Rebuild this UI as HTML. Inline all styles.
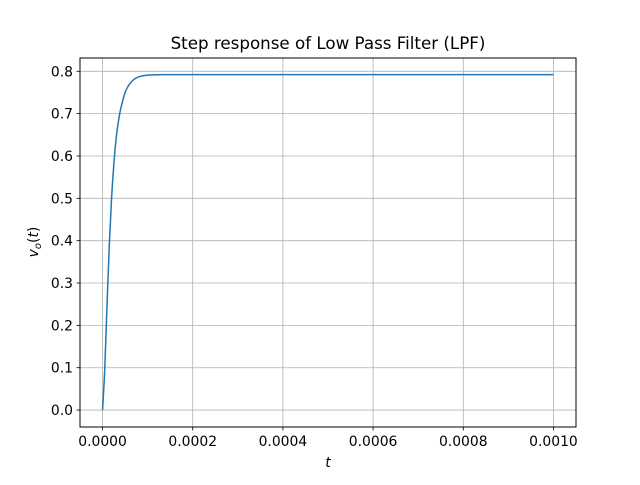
<!DOCTYPE html>
<html><head><meta charset="utf-8"><style>
body{margin:0;background:#fff}
svg{font-family:"DejaVu Sans","Liberation Sans",sans-serif}
</style></head><body>
<svg id="chart" width="640" height="480" viewBox="0 0 640 480" xmlns="http://www.w3.org/2000/svg">
<rect width="640" height="480" fill="#fff"/>
<g id="grid"></g>
<g id="xticks"></g>
<g id="yticks"></g>
<g id="series"></g>
<rect x="80" y="58" width="496" height="369" fill="none" stroke="#000" stroke-width="1"/>
<text x="328" y="49" text-anchor="middle" font-size="16.7">Step response of Low Pass Filter (LPF)</text>
<text x="328" y="467" text-anchor="middle" font-size="13.9" font-style="italic">t</text>
<text transform="translate(38,242) rotate(-90)" text-anchor="middle" font-size="13.9"><tspan font-style="italic">v</tspan><tspan font-style="italic" font-size="10" dy="3">o</tspan><tspan dy="-3">(</tspan><tspan font-style="italic">t</tspan>)</text>
</svg>
<script>
const times=[0,0.000005,0.00001,0.000015,0.00002,0.000025,0.00003,0.000035,0.00004,0.00005,0.00006,0.00007,0.00008,0.0001,0.00013,0.0002,0.0005,0.001];
const values=[0,0.10,0.25,0.39,0.50,0.58,0.64,0.68,0.71,0.75,0.77,0.781,0.787,0.791,0.792,0.792,0.792,0.792];
const xTicks=[0,0.0002,0.0004,0.0006,0.0008,0.001];
const xTickLabels=["0.0000","0.0002","0.0004","0.0006","0.0008","0.0010"];
const yTicks=[0,0.1,0.2,0.3,0.4,0.5,0.6,0.7,0.8];
const yTickLabels=["0.0","0.1","0.2","0.3","0.4","0.5","0.6","0.7","0.8"];
const NS="http://www.w3.org/2000/svg";
const X0=80,X1=576,Y0=427,Y1=58,xmin=-0.00005,xmax=0.00105,ymin=-0.04,ymax=0.8314;
const sx=v=>X0+(v-xmin)/(xmax-xmin)*(X1-X0);
const sy=v=>Y0-(v-ymin)/(ymax-ymin)*(Y0-Y1);
function mk(t,a){const e=document.createElementNS(NS,t);for(const k in a)e.setAttribute(k,a[k]);return e;}
const grid=document.getElementById('grid'),xg=document.getElementById('xticks'),yg=document.getElementById('yticks');
xTicks.forEach((v,i)=>{const x=sx(v);
 const g=mk('line',{x1:x,x2:x,y1:Y0,y2:Y1,stroke:'#b0b0b0','stroke-width':0.8});
 
 grid.appendChild(g);
 const t=mk('line',{x1:x,x2:x,y1:Y0,y2:Y0+3.5,stroke:'#000','stroke-width':0.8});
 
 xg.appendChild(t);
 const l=mk('text',{x:x,y:Y0+19,'text-anchor':'middle','font-size':13.9});l.textContent=xTickLabels[i];
 
 xg.appendChild(l);});
yTicks.forEach((v,i)=>{const y=sy(v);
 const g=mk('line',{x1:X0,x2:X1,y1:y,y2:y,stroke:'#b0b0b0','stroke-width':0.8});
 
 grid.appendChild(g);
 const t=mk('line',{x1:X0-3.5,x2:X0,y1:y,y2:y,stroke:'#000','stroke-width':0.8});
 
 yg.appendChild(t);
 const l=mk('text',{x:X0-7,y:y+5,'text-anchor':'end','font-size':13.9});l.textContent=yTickLabels[i];
 
 yg.appendChild(l);});
const P=times.map((t,i)=>[sx(t),sy(values[i])]);
let d='M'+P[0][0].toFixed(2)+','+P[0][1].toFixed(2);
for(let i=0;i<P.length-1;i++){
 const p0=P[Math.max(i-1,0)],p1=P[i],p2=P[i+1],p3=P[Math.min(i+2,P.length-1)];
 const c1=[p1[0]+(p2[0]-p0[0])/6,p1[1]+(p2[1]-p0[1])/6];
 const c2=[p2[0]-(p3[0]-p1[0])/6,p2[1]-(p3[1]-p1[1])/6];
 d+=' C'+c1.map(v=>v.toFixed(2)).join(',')+' '+c2.map(v=>v.toFixed(2)).join(',')+' '+p2.map(v=>v.toFixed(2)).join(',');
}
const p=mk('path',{d:d,fill:'none',stroke:'#1f77b4','stroke-width':1.5,'stroke-linejoin':'round'});


document.getElementById('series').appendChild(p);
</script>
</body></html>
